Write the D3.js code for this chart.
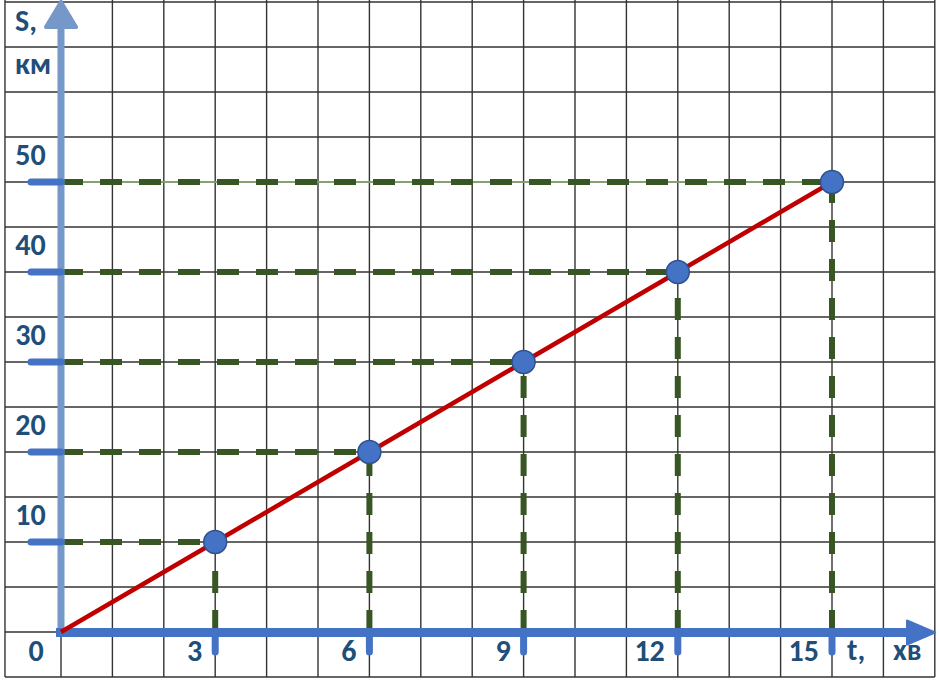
<!DOCTYPE html>
<html>
<head>
<meta charset="utf-8">
<script src="https://cdn.jsdelivr.net/npm/d3@7"></script>
<style>
  html, body { margin: 0; padding: 0; background: #fff; }
  svg { display: block; }
  text { font-family: Carlito, Lato, "Open Sans", sans-serif; font-weight: bold; fill: #1f4e79; }
</style>
</head>
<body>
<div id="chart"></div>
<script>
// time (хв) and distance (км) of the marked points
const times = [0, 3, 6, 9, 12, 15];
const distances = [0, 10, 20, 30, 40, 50];
const xTicks = [3, 6, 9, 12, 15];
const yTicks = [10, 20, 30, 40, 50];
const yTitle = ["S,", "км"];
const xTitle = ["t,", "хв"];
const originLabel = "0";

const width = 940, height = 682;

const x = d3.scaleLinear().domain([0, 15]).range([61, 832]);
const y = d3.scaleLinear().domain([0, 50]).range([632, 182]);

// extent of the squared paper
const tMin = -1.09, tMax = 17, sMin = -5, sMax = 70;

const svg = d3.select("#chart").append("svg")
    .attr("width", width)
    .attr("height", height);

// grid
const grid = svg.append("g").attr("stroke", "#333").attr("stroke-width", 1.4);
grid.selectAll(".gv")
    .data(d3.range(0, 18).concat([tMin]))
    .enter().append("line")
    .attr("x1", d => x(d)).attr("x2", d => x(d))
    .attr("y1", y(sMin)).attr("y2", 0);
grid.selectAll(".gh")
    .data(d3.range(sMin, sMax + 1, 5))
    .enter().append("line")
    .attr("x1", x(tMin)).attr("x2", x(tMax))
    .attr("y1", d => y(d)).attr("y2", d => y(d));

const pts = times.map((t, i) => ({ t: t, s: distances[i] })).filter(d => d.t > 0);

// thin light green guide under the top dashed line
const lastPt = pts[pts.length - 1];
svg.append("line")
    .attr("x1", x(0)).attr("x2", x(lastPt.t))
    .attr("y1", y(lastPt.s)).attr("y2", y(lastPt.s))
    .attr("stroke", "#93b47a").attr("stroke-width", 1.3);

// dashed projections
const dash = svg.append("g")
    .attr("stroke", "#375623")
    .attr("stroke-width", 6)
    .attr("stroke-dasharray", "22,17");
dash.selectAll(".dh")
    .data(pts)
    .enter().append("line")
    .attr("x1", x(0)).attr("x2", d => x(d.t))
    .attr("y1", d => y(d.s)).attr("y2", d => y(d.s));
dash.selectAll(".dv")
    .data(pts)
    .enter().append("line")
    .attr("x1", d => x(d.t)).attr("x2", d => x(d.t))
    .attr("y1", y(0)).attr("y2", d => y(d.s));

// y axis (light blue) with arrow
const yCol = "#7598c8";
svg.append("line")
    .attr("x1", x(0)).attr("x2", x(0))
    .attr("y1", y(0)).attr("y2", 24)
    .attr("stroke", yCol).attr("stroke-width", 7);
svg.append("path")
    .attr("d", `M${x(0)},2 L${x(0) + 15},27 L${x(0) - 15},27 Z`)
    .attr("fill", yCol).attr("stroke", yCol)
    .attr("stroke-width", 4).attr("stroke-linejoin", "round");

// y ticks
const blue = "#4472c4";
svg.selectAll(".yt")
    .data(yTicks)
    .enter().append("line")
    .attr("x1", 31).attr("x2", x(0))
    .attr("y1", d => y(d)).attr("y2", d => y(d))
    .attr("stroke", blue).attr("stroke-width", 7).attr("stroke-linecap", "round");

// x axis with arrow
svg.append("line")
    .attr("x1", x(0) - 5).attr("x2", 912)
    .attr("y1", y(0) + 0.5).attr("y2", y(0) + 0.5)
    .attr("stroke", blue).attr("stroke-width", 9);
svg.append("path")
    .attr("d", `M935,${y(0) + 0.5} L907,${y(0) - 11.5} L907,${y(0) + 12.5} Z`)
    .attr("fill", blue).attr("stroke", blue)
    .attr("stroke-width", 2).attr("stroke-linejoin", "round");

// x ticks
svg.selectAll(".xt")
    .data(xTicks)
    .enter().append("line")
    .attr("x1", d => x(d)).attr("x2", d => x(d))
    .attr("y1", y(0)).attr("y2", y(0) + 20)
    .attr("stroke", blue).attr("stroke-width", 7).attr("stroke-linecap", "round");

// S(t) line
const line = d3.line().x(d => x(d.t)).y(d => y(d.s));
svg.append("path")
    .datum(times.map((t, i) => ({ t: t, s: distances[i] })))
    .attr("d", line)
    .attr("fill", "none")
    .attr("stroke", "#c00000")
    .attr("stroke-width", 4.5);

// points
svg.selectAll(".pt")
    .data(pts)
    .enter().append("circle")
    .attr("cx", d => x(d.t)).attr("cy", d => y(d.s))
    .attr("r", 11.5)
    .attr("fill", blue)
    .attr("stroke", "#2f528f").attr("stroke-width", 1.5);

// labels
const fs = 30;
svg.selectAll(".yl")
    .data(yTicks)
    .enter().append("text")
    .attr("x", 30.5).attr("y", d => y(d) - 17)
    .attr("text-anchor", "middle")
    .attr("font-size", fs)
    .text(d => d);
svg.selectAll(".xl")
    .data(xTicks)
    .enter().append("text")
    .attr("x", d => x(d) - 13).attr("y", 661)
    .attr("text-anchor", "end")
    .attr("font-size", fs)
    .text(d => d);
svg.append("text").attr("x", 36).attr("y", 661)
    .attr("text-anchor", "middle").attr("font-size", fs).text(originLabel);

svg.append("text").attr("x", 15).attr("y", 31).attr("font-size", fs).text(yTitle[0]);
svg.append("text").attr("x", 15).attr("y", 74).attr("font-size", fs).text(yTitle[1]);
svg.append("text").attr("x", 847).attr("y", 660).attr("font-size", fs).text(xTitle[0]);
svg.append("text").attr("x", 893).attr("y", 660).attr("font-size", fs).text(xTitle[1]);
</script>
</body>
</html>
